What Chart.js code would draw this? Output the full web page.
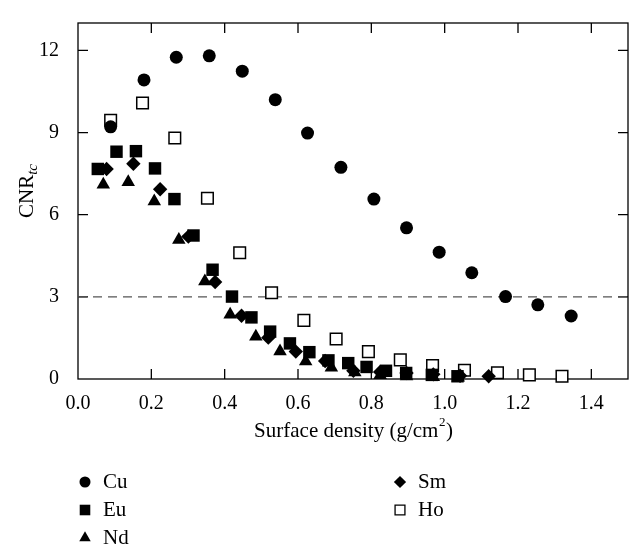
<!DOCTYPE html>
<html>
<head>
<meta charset="utf-8">
<script src="https://cdn.jsdelivr.net/npm/chart.js@4.4.1/dist/chart.umd.min.js"></script>
<style>
  body { margin: 0; background: #fff; }
  #wrap { width: 643px; height: 558px; position: relative; }
</style>
</head>
<body>
<div id="wrap"><canvas id="myChart"></canvas></div>
<script>
// values
var xTicks = [0, 0.2, 0.4, 0.6, 0.8, 1.0, 1.2, 1.4];
var yTicks = [0, 3, 6, 9, 12];
var threshold = 3;

var cuX = [0.089, 0.18, 0.268, 0.358, 0.448, 0.538, 0.626, 0.717, 0.807, 0.896, 0.985, 1.074, 1.166, 1.254, 1.345];
var cuY = [9.21, 10.92, 11.75, 11.80, 11.24, 10.20, 8.98, 7.73, 6.57, 5.52, 4.63, 3.88, 3.01, 2.71, 2.30];

var euX = [0.054, 0.105, 0.158, 0.21, 0.263, 0.315, 0.367, 0.42, 0.473, 0.524, 0.578, 0.631, 0.683, 0.737, 0.787, 0.84, 0.895, 0.965, 1.035];
var euY = [7.67, 8.30, 8.32, 7.69, 6.57, 5.24, 3.99, 3.01, 2.25, 1.73, 1.30, 0.98, 0.68, 0.58, 0.44, 0.30, 0.22, 0.15, 0.10];

var ndX = [0.069, 0.137, 0.208, 0.275, 0.346, 0.415, 0.485, 0.551, 0.621, 0.691, 0.755, 0.824, 0.896, 0.969, 1.037];
var ndY = [7.10, 7.19, 6.49, 5.08, 3.57, 2.35, 1.55, 1.01, 0.64, 0.42, 0.24, 0.14, 0.10, 0.07, 0.05];

var smX = [0.078, 0.151, 0.224, 0.301, 0.374, 0.446, 0.519, 0.594, 0.674, 0.751, 0.824, 0.896, 0.969, 1.042, 1.12];
var smY = [7.67, 7.86, 6.93, 5.20, 3.54, 2.31, 1.51, 1.00, 0.66, 0.30, 0.26, 0.22, 0.17, 0.12, 0.10];

var hoX = [0.089, 0.176, 0.264, 0.353, 0.441, 0.528, 0.616, 0.704, 0.792, 0.879, 0.967, 1.054, 1.144, 1.231, 1.32];
var hoY = [9.45, 10.08, 8.80, 6.60, 4.61, 3.15, 2.14, 1.46, 1.00, 0.70, 0.49, 0.32, 0.23, 0.15, 0.10];

var FONT = "'Liberation Serif', 'DejaVu Serif', serif";

function pts(xs, ys) {
  return xs.map(function (x, i) { return { x: x, y: ys[i] }; });
}

var series = [
  { label: 'Cu', x: cuX, y: cuY, style: 'circle', r: 6.5, fill: '#000', col: 0, row: 0 },
  { label: 'Eu', x: euX, y: euY, style: 'rect', r: 8.8, fill: '#000', col: 0, row: 1 },
  { label: 'Nd', x: ndX, y: ndY, style: 'triangle', r: 7.8, fill: '#000', col: 0, row: 2 },
  { label: 'Sm', x: smX, y: smY, style: 'rectRot', r: 7.2, fill: '#000', col: 1, row: 0 },
  { label: 'Ho', x: hoX, y: hoY, style: 'rect', r: 8.2, fill: '#fff', col: 1, row: 1 }
];

var datasets = series.map(function (s) {
  return {
    label: s.label,
    data: pts(s.x, s.y),
    pointStyle: s.style,
    pointRadius: s.r,
    pointHoverRadius: s.r,
    backgroundColor: s.fill,
    borderColor: '#000',
    borderWidth: s.fill === '#fff' ? 1.5 : 0,
    clip: false
  };
});

datasets.push({
  label: 'limit',
  type: 'line',
  data: [{ x: 0, y: threshold }, { x: 1.5, y: threshold }],
  borderColor: '#555',
  borderWidth: 1.3,
  borderDash: [9, 6],
  pointRadius: 0,
  order: 10
});

var decor = {
  id: 'decor',
  beforeDatasetsDraw: function (chart) {
    var ctx = chart.ctx, a = chart.chartArea, sx = chart.scales.x, sy = chart.scales.y;
    ctx.save();
    ctx.strokeStyle = '#000';
    ctx.lineWidth = 1.3;
    ctx.strokeRect(a.left, a.top, a.right - a.left, a.bottom - a.top);
    ctx.beginPath();
    xTicks.forEach(function (v) {
      if (v === 0) return;
      var px = sx.getPixelForValue(v);
      ctx.moveTo(px, a.bottom); ctx.lineTo(px, a.bottom - 10);
      ctx.moveTo(px, a.top); ctx.lineTo(px, a.top + 10);
    });
    yTicks.forEach(function (v) {
      if (v === 0) return;
      var py = sy.getPixelForValue(v);
      ctx.moveTo(a.left, py); ctx.lineTo(a.left + 10, py);
      ctx.moveTo(a.right, py); ctx.lineTo(a.right - 10, py);
    });
    ctx.stroke();
    ctx.restore();
  },
  afterDraw: function (chart) {
    var ctx = chart.ctx, a = chart.chartArea;
    ctx.save();
    ctx.fillStyle = '#000';
    ctx.textBaseline = 'middle';

    // x title with superscript
    var cx = (a.left + a.right) / 2;
    var t1 = 'Surface density (g/cm', t3 = ')';
    ctx.font = '21px ' + FONT;
    var w1 = ctx.measureText(t1).width;
    var w3 = ctx.measureText(t3).width;
    ctx.font = '13px ' + FONT;
    var w2 = ctx.measureText('2').width;
    var x0 = cx - (w1 + w2 + w3) / 2;
    ctx.textAlign = 'left';
    ctx.font = '21px ' + FONT;
    ctx.fillText(t1, x0, 431);
    ctx.font = '13px ' + FONT;
    ctx.fillText('2', x0 + w1 + 0.5, 423);
    ctx.font = '21px ' + FONT;
    ctx.fillText(t3, x0 + w1 + w2 + 1, 431);

    // y title, rotated, with italic subscript
    ctx.save();
    ctx.translate(27, 191);
    ctx.rotate(-Math.PI / 2);
    ctx.font = '21px ' + FONT;
    var m1 = ctx.measureText('CNR').width;
    ctx.font = 'italic 15px ' + FONT;
    var m2 = ctx.measureText('tc').width;
    var y0 = -(m1 + m2) / 2;
    ctx.font = '21px ' + FONT;
    ctx.fillText('CNR', y0, 0);
    ctx.font = 'italic 15px ' + FONT;
    ctx.fillText('tc', y0 + m1, 6);
    ctx.restore();

    // legend in two columns
    var colX = [85, 400], rowY = [482, 510, 538];
    series.forEach(function (s) {
      var mx = colX[s.col], my = rowY[s.row];
      ctx.fillStyle = s.fill;
      ctx.strokeStyle = '#000';
      ctx.lineWidth = s.fill === '#fff' ? 1.3 : 0;
      Chart.helpers.drawPoint(ctx, {
        pointStyle: s.style,
        radius: s.r * 0.85,
        rotation: 0,
        borderWidth: s.fill === '#fff' ? 1.3 : 0
      }, mx, my);
      ctx.fillStyle = '#000';
      ctx.font = '21px ' + FONT;
      ctx.textAlign = 'left';
      ctx.fillText(s.label, mx + 18, my);
    });
    ctx.restore();
  }
};

var chart = new Chart(document.getElementById('myChart'), {
  type: 'scatter',
  data: { datasets: datasets },
  options: {
    responsive: true,
    maintainAspectRatio: false,
    animation: false,
    layout: { padding: { top: 14, right: 15, left: 0, bottom: 0 } },
    plugins: {
      legend: { display: false },
      tooltip: { enabled: false }
    },
    scales: {
      x: {
        type: 'linear',
        min: 0,
        max: 1.5,
        grid: { display: false },
        border: { display: false },
        afterFit: function (s) { s.height = 179; },
        afterBuildTicks: function (s) { s.ticks = xTicks.map(function (v) { return { value: v }; }); },
        ticks: {
          padding: 5,
          color: '#000',
          font: { family: FONT, size: 20 },
          maxRotation: 0,
          callback: function (v) { return Number(v).toFixed(1); }
        }
      },
      y: {
        type: 'linear',
        min: 0,
        max: 13,
        grid: { display: false },
        border: { display: false },
        afterFit: function (s) { s.width = 78; },
        afterBuildTicks: function (s) { s.ticks = yTicks.map(function (v) { return { value: v }; }); },
        ticks: {
          padding: 11,
          color: '#000',
          font: { family: FONT, size: 20 }
        }
      }
    }
  },
  plugins: [decor]
});
</script>
</body>
</html>
